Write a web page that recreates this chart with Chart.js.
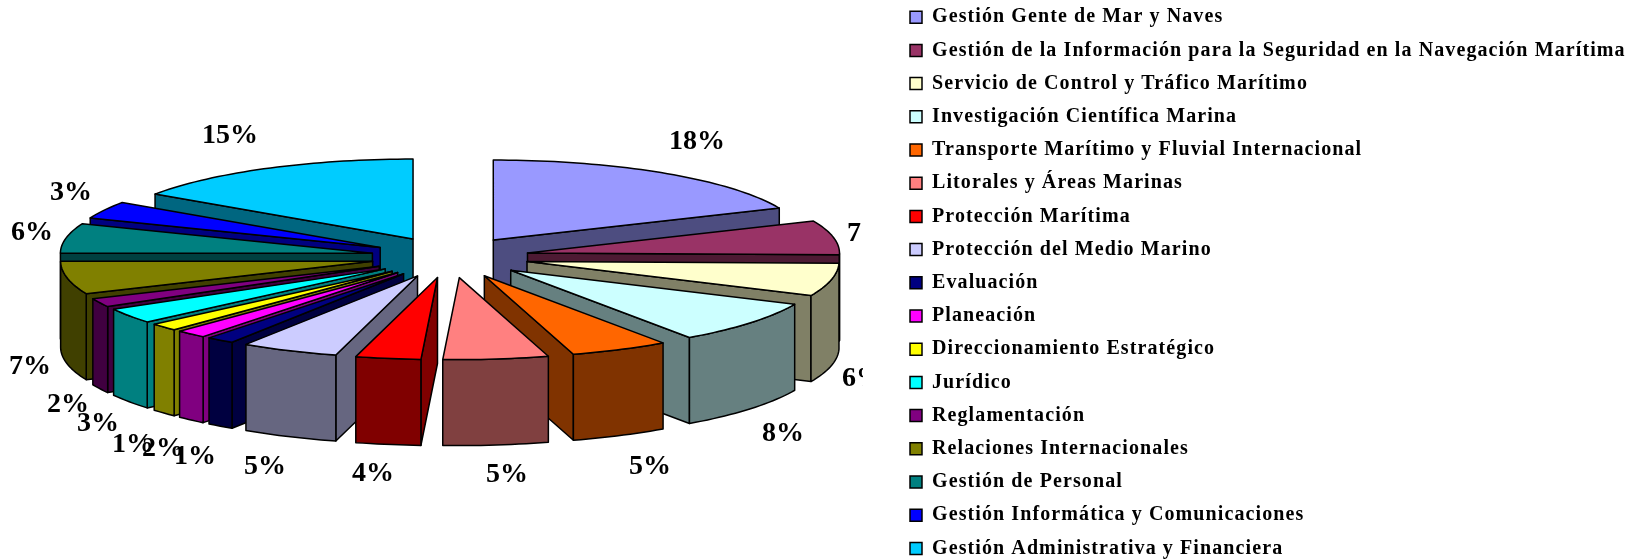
<!DOCTYPE html>
<html lang="es">
<head>
<meta charset="utf-8">
<title>Distribución</title>
<script src="https://cdn.jsdelivr.net/npm/chart.js@4"></script>
<style>
html,body{margin:0;padding:0;width:1640px;height:560px;overflow:hidden;background:#fff}
#wrap{position:absolute;left:0;top:-8px;width:1640px;height:580px}
canvas{display:block}
</style>
</head>
<body>
<div id="wrap"><canvas id="c" width="1640" height="580"></canvas></div>
<script>
const categories = [
  "Gestión Gente de Mar y Naves",
  "Gestión de la Información para la Seguridad en la Navegación Marítima",
  "Servicio de Control y Tráfico Marítimo",
  "Investigación Científica Marina",
  "Transporte Marítimo y Fluvial Internacional",
  "Litorales y Áreas Marinas",
  "Protección Marítima",
  "Protección del Medio Marino",
  "Evaluación",
  "Planeación",
  "Direccionamiento Estratégico",
  "Jurídico",
  "Reglamentación",
  "Relaciones Internacionales",
  "Gestión de Personal",
  "Gestión Informática y Comunicaciones",
  "Gestión Administrativa y Financiera"
];
const shares = [18.45, 6.85, 6.49, 8.49, 5.1, 5.45, 3.37, 5.05, 1.45, 1.6, 1.49, 3.0, 1.7, 6.5, 6.0, 3.49, 15.49];
const percentLabels = ["18%","7%","6%","8%","5%","5%","4%","5%","1%","2%","1%","3%","2%","7%","6%","3%","15%"];
const colors = ["#9999FF","#993366","#FFFFCC","#CCFFFF","#FF6600","#FF8080","#FF0000","#CCCCFF","#000080","#FF00FF","#FFFF00","#00FFFF","#800080","#808000","#008080","#0000FF","#00CCFF"];

// Layout of the tilted pie and its annotations
const PAGE_SHIFT = 8;            // canvas sits 8px above the page top
const PIE = {cx: 450, cy: 257 + PAGE_SHIFT, radius: 312, tiltBack: 80 / 312, tiltFront: 82 / 312, depth: 86, explode: 79};
const LABEL_CLIP_RIGHT = 863;
const LEGEND_LEFT = 896.8;
const LEGEND_NUDGE = 2;
const labelCenters = [[697,142],[868,234],[863,379],[783,434],[650,467],[507,475],[373,474],[265,467],[195,457],[163,449],[133,445],[98,424],[68,405],[30,367],[32,233],[71,193],[230,136]];
const SERIF = '"Liberation Serif", serif';

function darken(hex){
  const n = parseInt(hex.slice(1),16);
  const h = v => Math.round(v/2).toString(16).padStart(2,'0');
  return '#'+h(n>>16&255)+h(n>>8&255)+h(n&255);
}

function poly(ctx, pts, fill){
  ctx.beginPath();
  pts.forEach((p,i)=> i ? ctx.lineTo(p[0],p[1]) : ctx.moveTo(p[0],p[1]));
  ctx.closePath();
  ctx.fillStyle = fill;
  ctx.fill();
  ctx.stroke();
}

const pie3d = {
  id: 'pie3d',
  afterLayout(chart){
    chart.legend.left = LEGEND_LEFT;
    chart.legend.right = 1640;
    chart.legend.top += LEGEND_NUDGE;
  },
  beforeDraw(chart){ chart.ctx.letterSpacing = '1.1px'; },
  beforeDatasetDraw(chart, args){
    const ctx = chart.ctx;
    const arcs = args.meta.data;
    const order = arcs.map((a,i)=>i).sort((i,j)=>{
      const m = a => (a.startAngle + a.endAngle)/2;
      return Math.sin(m(arcs[i])) - Math.sin(m(arcs[j]));
    });
    ctx.save();
    ctx.lineWidth = 1.5;
    ctx.strokeStyle = '#000';
    ctx.lineJoin = 'round';
    const sq = s => s * (s < 0 ? PIE.tiltBack : PIE.tiltFront);
    for (const i of order){
      const a = arcs[i];
      const {startAngle:a1, endAngle:a2, outerRadius:r} = a;
      const mid = (a1+a2)/2;
      const off = a.options.offset;
      const ax = PIE.cx + off*Math.cos(mid);
      const ay = PIE.cy + off*sq(Math.sin(mid));
      const P = (t,h=0)=>[ax + r*Math.cos(t), ay + r*sq(Math.sin(t)) + h];
      const top = a.options.backgroundColor;
      const wall = darken(top);
      const d = PIE.depth;
      const radial = t => poly(ctx, [[ax,ay],P(t),P(t,d),[ax,ay+d]], wall);
      if (Math.cos(a2) > 0.0001) radial(a2);
      if (Math.cos(a1) < -0.0001) radial(a1);
      let lo = Math.max(a1, 0), hi = Math.min(a2, Math.PI);
      if (hi > lo){
        const up = [], down = [];
        const n = Math.max(2, Math.ceil((hi-lo)*40));
        for (let s=0;s<=n;s++){
          const t = lo+(hi-lo)*s/n;
          up.push(P(t)); down.unshift(P(t,d));
        }
        poly(ctx, up.concat(down), wall);
      }
      const face = [[ax,ay]];
      const n = Math.max(2, Math.ceil((a2-a1)*40));
      for (let s=0;s<=n;s++) face.push(P(a1+(a2-a1)*s/n));
      poly(ctx, face, top);
    }
    ctx.restore();
    return false;
  },
  afterDatasetsDraw(chart){
    const ctx = chart.ctx;
    ctx.save();
    ctx.beginPath();
    ctx.rect(0,0,LABEL_CLIP_RIGHT,chart.height);
    ctx.clip();
    ctx.letterSpacing = '0px';
    ctx.font = 'bold 28px '+SERIF;
    ctx.fillStyle = '#000';
    ctx.textAlign = 'center';
    ctx.textBaseline = 'middle';
    percentLabels.forEach((t,i)=> ctx.fillText(t, labelCenters[i][0], labelCenters[i][1]+PAGE_SHIFT));
    ctx.restore();
  }
};

new Chart(document.getElementById('c'), {
  type: 'pie',
  data: {
    labels: categories,
    datasets: [{
      data: shares,
      backgroundColor: colors,
      borderColor: '#000',
      borderWidth: 1.5,
      offset: PIE.explode,
      clip: false
    }]
  },
  options: {
    responsive: false,
    animation: false,
    radius: PIE.radius,
    events: [],
    layout: {padding: 0},
    plugins: {
      tooltip: {enabled: false},
      legend: {
        position: 'right',
        align: 'start',
        labels: {
          boxWidth: 12,
          boxHeight: 12,
          padding: 13.2,
          color: '#000',
          font: {family: SERIF, weight: 'bold', size: 20},
          generateLabels: () => categories.map((text,i)=>({
            text, fillStyle: colors[i], strokeStyle: '#000', lineWidth: 1.5, hidden: false, index: i
          }))
        }
      }
    }
  },
  plugins: [pie3d]
});
</script>
</body>
</html>
